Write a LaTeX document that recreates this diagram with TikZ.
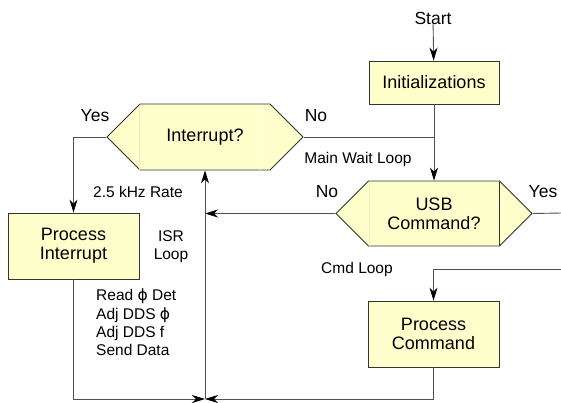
\documentclass[tikz,border=0pt]{standalone}
\usepackage{fontspec}
\setmainfont{Liberation Sans}
\newfontfamily\phifont{DejaVu Sans}
\usetikzlibrary{shapes.symbols,arrows.meta}
\definecolor{boxfill}{HTML}{FFFFCC}
\definecolor{wire}{HTML}{505050}
\definecolor{edge}{HTML}{333333}
\definecolor{facetlight}{HTML}{FFFFF0}
\definecolor{facetdim}{HTML}{EEEEC4}
\newcommand{\ph}{{\phifont\char"03D5}}
\tikzset{
  proc/.style={draw=edge, fill=boxfill, line width=0.8pt, rectangle, align=center,
    font=\fontsize{18}{19}\selectfont, inner sep=0pt},
  decide/.style={draw=edge, fill=boxfill, line width=0.8pt, signal, signal to=west and east,
    signal pointer angle=90, align=center, font=\fontsize{18}{19}\selectfont,
    inner sep=0pt, minimum width=196pt},
  lbl/.style={font=\fontsize{15.5}{18.3}\selectfont, inner sep=0pt, align=center},
  yn/.style={font=\fontsize{17.5}{19}\selectfont, inner sep=0pt},
  wireline/.style={draw=wire, line width=0.9pt},
  arr/.style={wireline, -{Stealth[length=13pt,width=8pt,inset=4pt,fill=black,color=black]}},
  facet/.style={line width=0.6pt},
}
\begin{document}
\begin{tikzpicture}[x=1pt,y=-1pt]
\useasboundingbox (0,0) rectangle (561,402);

% blocks
\node[yn] (start) at (433,18) {Start};
\node[proc, minimum width=130pt, minimum height=43pt] (init) at (434,82.5) {Initializations};
\node[decide, minimum height=66pt] (intr) at (205,137) {Interrupt?};
\node[decide, minimum height=65pt] (usb) at (434,213.5) {USB\\Command?};
\node[proc, minimum width=131pt, minimum height=66pt] (pint) at (73.5,246) {Process\\Interrupt};
\node[proc, minimum width=131pt, minimum height=66pt] (pcmd) at (433.5,334) {Process\\Command};

% facet edges on the decision shapes
\draw[facet, draw=facetlight] ([shift={(54,-32.5)}]intr.center) -- ([shift={(54,32.5)}]intr.center);
\draw[facet, draw=facetdim] ([shift={(-66,-32.5)}]intr.center) -- ([shift={(-66,32.5)}]intr.center);
\draw[facet, draw=facetdim] ([shift={(-65,-32)}]usb.center) -- ([shift={(-65,32)}]usb.center);
\draw[facet, draw=edge] ([shift={(65,-32)}]usb.center) -- ([shift={(65,32)}]usb.center);

% free ends and junctions
\coordinate (bot) at (205,399);
\coordinate (yesout) at (561,213);
\coordinate (cmdin) at (561,269);

% connectors
\draw[arr] (start) -- (init);
\draw[arr] (init.south) -- (init.south |- usb.north);
\draw[wireline] (intr.east) -- (intr.east -| init.south);
\draw[arr] (intr.west) -| (pint.north);
\draw[arr] (usb.west) -- (usb.west -| intr.south);
\draw[wireline] (usb.east) -- (yesout);
\draw[arr] (cmdin) -| (pcmd.north);
\draw[arr] (pcmd.south) |- (bot);
\draw[arr] (pint.south) |- (bot);
\draw[arr] (bot) -- (intr.south);

% labels
\node[yn] (yes1) at (95,116) {Yes};
\node[yn] (no1) at (316,116) {No};
\node[yn] (no2) at (327,192) {No};
\node[yn] (yes2) at (543,192) {Yes};
\node[lbl] (mwl) at (358,159) {Main Wait Loop};
\node[lbl] (rate) at (138,192) {2.5 kHz Rate};
\node[lbl] (cmdl) at (357,269) {Cmd Loop};
\node[lbl] (isr) at (171,247) {ISR\\Loop};
\node[lbl, align=left, anchor=north west] (tasks) at (96,289)
  {Read \ph{} Det\\Adj DDS \ph\\Adj DDS f\\Send Data};
\end{tikzpicture}
\end{document}
